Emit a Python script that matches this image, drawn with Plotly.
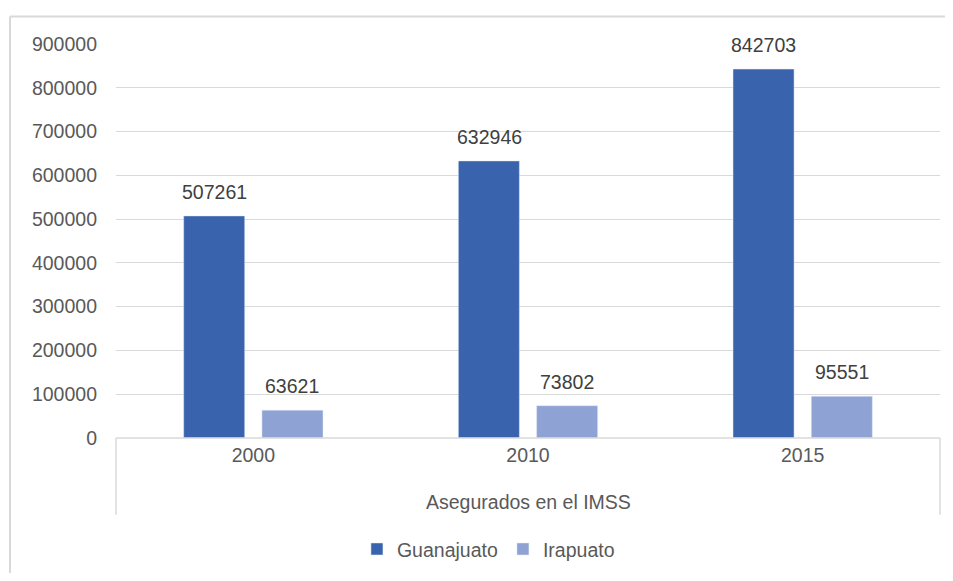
import plotly.graph_objects as go

years = ["2000", "2010", "2015"]
guanajuato = [507261, 632946, 842703]
irapuato = [63621, 73802, 95551]
group_label = "Asegurados en el IMSS"

txt = "#404040"
axis_col = "#595959"
grid_col = "#D9D9D9"
fsize = 19.5

fig = go.Figure()
fig.add_trace(go.Bar(x=years, y=guanajuato, name="Guanajuato", marker=dict(color="#3A63AD")))
fig.add_trace(go.Bar(x=years, y=irapuato, name="Irapuato", marker=dict(color="#8FA2D4")))

# data labels a bit above each bar, like the Excel original
# (category index used for x, year strings would be read as indices)
for vals, shift in [(guanajuato, -39), (irapuato, 39)]:
    for i, v in enumerate(vals):
        fig.add_annotation(x=i, y=v, text=str(v), showarrow=False, xshift=shift, yshift=24,
                           yanchor="middle", font=dict(size=fsize, color=txt))

W, H = 945, 573
ml, mr, mt, mb = 108, 13, 36, 137
pw, ph = W - ml - mr, H - mt - mb

fig.update_layout(
    width=W, height=H,
    margin=dict(l=ml, r=mr, t=mt, b=mb),
    paper_bgcolor="white", plot_bgcolor="white",
    font=dict(family="Liberation Sans, Arial, sans-serif", size=fsize, color=axis_col),
    barmode="group", bargap=0.43, bargroupgap=0.22,
    showlegend=True,
    legend=dict(orientation="h", x=0.452, xanchor="center", y=-113 / ph, yanchor="middle",
                font=dict(size=fsize, color=axis_col), itemwidth=30, tracegroupgap=0),
    xaxis=dict(type="category", range=[-0.5, 2.5], showline=False, ticks="", ticklabelstandoff=3,
               tickfont=dict(size=fsize, color=axis_col)),
    yaxis=dict(range=[0, 900000], dtick=100000, showgrid=True, gridcolor=grid_col, gridwidth=1,
               zeroline=False, tickformat="d", ticklabelstandoff=18,
               tickfont=dict(size=fsize, color=axis_col)),
)

# category axis with group level
fig.add_shape(type="line", xref="paper", yref="paper", x0=0, x1=1, y0=0, y1=0,
              line=dict(color=grid_col, width=1.5))
for xv in [0, 1]:
    fig.add_shape(type="line", xref="paper", yref="paper", x0=xv, x1=xv, y0=0, y1=-78 / ph,
                  line=dict(color=grid_col, width=1.5))
fig.add_annotation(xref="paper", yref="paper", x=0.5, y=-65 / ph, text=group_label, showarrow=False,
                   yanchor="middle", font=dict(size=fsize, color=axis_col))

# outer chart border (top and left edges)
bx = -(ml - 2) / pw
by = 1 + (mt - 8) / ph
fig.add_shape(type="line", xref="paper", yref="paper", x0=bx, x1=(W - ml) / pw,
              y0=by, y1=by, line=dict(color=grid_col, width=2))
fig.add_shape(type="line", xref="paper", yref="paper", x0=bx, x1=bx,
              y0=by, y1=-mb / ph, line=dict(color=grid_col, width=2))

fig.write_html("out.html")
